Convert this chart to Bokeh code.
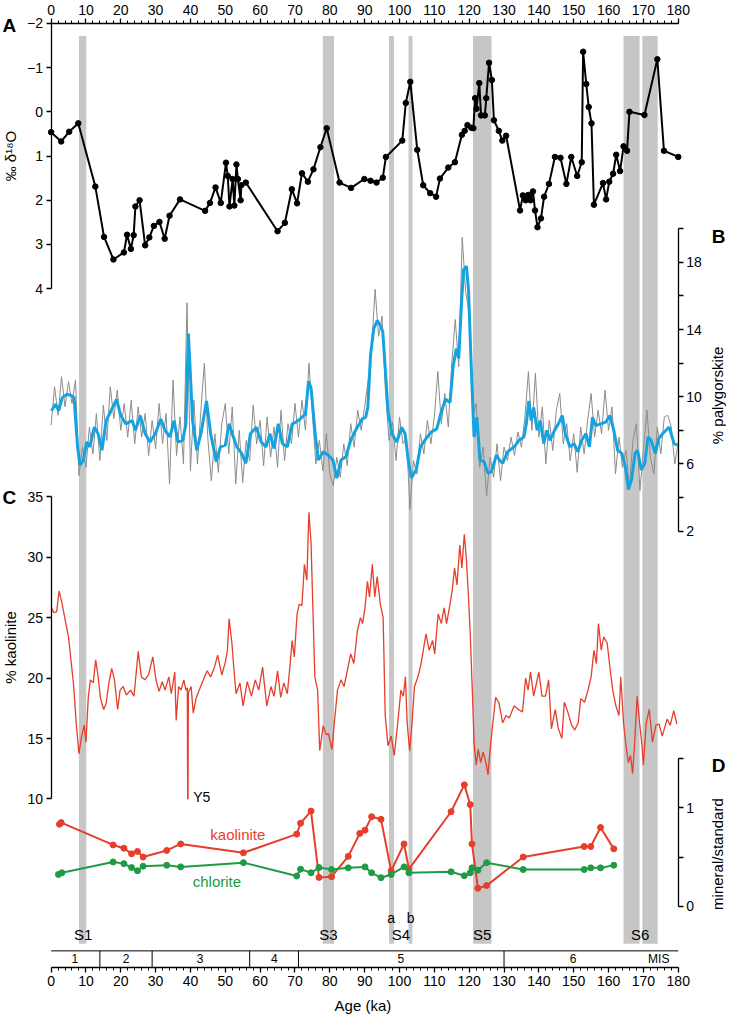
from bokeh.plotting import figure
from bokeh.models import Range1d, LinearAxis, FixedTicker, Label
from bokeh.embed import file_html
from bokeh.resources import INLINE
from bokeh.core.properties import value
import math

FONT = "Liberation Sans"

# ---------------- data ----------------
# Panel A: oxygen isotopes (per mil)
d18o_age = [0.0, 2.9, 5.2, 7.8, 12.7, 15.2, 17.9, 20.9, 21.8, 22.9, 23.7, 24.2, 25.4, 27.0, 28.2,
            29.5, 31.1, 32.6, 34.0, 37.0, 44.2, 45.6, 47.2, 48.7, 50.2, 50.7, 51.2, 52.1, 52.6, 53.2,
            53.6, 54.4, 54.6, 55.9, 65.0, 67.1, 69.1, 70.6, 72.0, 73.7, 75.3, 77.3, 79.1, 82.8, 86.1,
            89.9, 91.7, 93.4, 95.2, 96.1, 100.8, 101.8, 103.1, 105.1, 106.8, 108.8, 110.5, 111.6, 114.0,
            115.9, 117.9, 118.7, 119.5, 120.6, 121.2, 121.7, 122.1, 122.9, 123.4, 124.5, 124.9, 125.7,
            126.5, 127.1, 128.5, 129.5, 130.6, 134.6, 135.4, 136.2, 136.9, 137.6, 138.3, 138.9, 139.6,
            140.6, 141.5, 142.9, 144.6, 146.2, 147.9, 149.3, 151.0, 152.3, 152.7, 153.6, 154.3, 155.1,
            155.8, 158.4, 159.3, 160.2, 161.3, 162.2, 163.3, 164.3, 165.3, 166.0, 170.3, 174.0, 175.9,
            180.0]
d18o_val = [0.46, 0.67, 0.45, 0.26, 1.69, 2.83, 3.34, 3.18, 2.78, 3.10, 2.79, 2.14, 2.00, 3.02, 2.84,
            2.58, 2.49, 2.87, 2.35, 1.98, 2.24, 2.06, 1.71, 2.06, 1.15, 1.45, 2.14, 1.52, 2.12, 1.19,
            1.52, 2.00, 1.66, 1.60, 2.70, 2.51, 1.75, 2.07, 1.39, 1.58, 1.30, 0.80, 0.37, 1.60, 1.72,
            1.52, 1.56, 1.60, 1.49, 1.02, 0.65, -0.20, -0.68, 0.86, 1.66, 1.84, 1.92, 1.51, 1.26,
            1.14, 0.52, 0.43, 0.30, 0.36, 0.37, -0.31, -0.07, -0.65, 0.08, 0.08, -0.31, -1.11,
            -0.72, 0.19, 0.43, 0.65, 0.54, 2.23, 1.89, 2.00, 1.88, 2.00, 1.80, 2.23, 2.61,
            2.41, 1.92, 1.63, 1.02, 1.04, 1.63, 1.02, 1.45, 1.14, -1.36, -0.63, -0.11, 0.26,
            2.10, 1.61, 1.98, 1.58, 1.40, 0.97, 1.34, 0.78, 0.88, 0.00, 0.07, -1.19, 0.88,
            1.02]

# Panel B: palygorskite (%), raw record sampled every 1 ka
paly_raw_age = list(range(0, 181))
paly_raw = [8.3, 10.6, 8.9, 11.2, 9.4, 10.9, 9.6, 11.0, 5.3, 7.0, 5.8, 8.2, 6.6, 9.0, 6.2, 9.5, 7.4, 10.6, 8.7, 10.4,
            8.0, 9.6, 7.6, 9.8, 7.2, 9.4, 7.6, 9.0, 6.5, 8.6, 6.9, 9.6, 7.2, 9.0, 4.8, 11.0, 6.5, 8.8, 6.0, 15.6,
            5.6, 9.8, 6.0, 9.2, 12.0, 7.5, 5.0, 7.8, 5.5, 8.4, 9.6, 6.6, 9.4, 4.8, 8.0, 4.9, 7.4, 6.2, 9.5, 7.2,
            8.6, 5.9, 8.8, 6.4, 8.2, 5.8, 9.2, 6.2, 8.4, 7.2, 9.6, 7.6, 9.8, 8.0, 12.0, 9.0, 6.0, 7.4, 5.6, 7.8,
            5.4, 4.7, 6.4, 5.2, 7.2, 5.9, 8.4, 7.0, 9.2, 8.0, 9.4, 11.0, 13.0, 16.4, 13.6, 14.8, 10.2, 7.4, 8.5, 6.2,
            8.8, 7.2, 7.6, 3.3, 6.2, 5.4, 7.8, 6.6, 8.6, 7.2, 8.8, 11.5, 8.4, 10.2, 8.2, 12.0, 14.6, 11.8, 19.5, 16.2,
            15.0, 8.8, 9.6, 5.8, 7.0, 4.1, 6.4, 5.2, 7.2, 5.0, 7.0, 6.2, 7.6, 6.5, 7.9, 7.0, 8.8, 11.5, 8.0, 11.4,
            7.6, 9.4, 6.0, 8.6, 6.8, 9.2, 10.2, 7.2, 8.4, 6.2, 7.8, 5.5, 8.2, 6.6, 8.6, 10.2, 7.6, 9.2, 7.8, 10.4,
            8.0, 9.4, 5.4, 7.6, 5.8, 6.8, 4.6, 7.4, 8.4, 4.4, 6.8, 9.2, 6.4, 5.4, 8.2, 6.6, 8.8, 8.9, 8.2, 6.0,
            7.3]
# smoothed palygorskite
paly_smooth_age = [0.1, 1.3, 2.2, 3.2, 4.6, 6.0, 6.6, 7.6, 8.3, 9.3, 10.2, 11.1, 12.4, 13.5, 14.6, 15.8, 17.2,
                   18.8, 20.0, 21.4, 23.3, 24.2, 25.6, 27.0, 28.4, 29.9, 31.5, 32.7, 34.1, 35.3, 36.4, 37.8,
                   38.7, 39.4, 39.9, 40.6, 41.8, 43.0, 44.6, 45.8, 47.4, 48.6, 50.0, 51.1, 52.0, 53.3, 54.7,
                   55.9, 57.2, 58.9, 60.3, 61.7, 62.8, 64.0, 65.2, 66.4, 67.8, 69.2, 70.3, 71.5, 73.0, 73.9,
                   74.6, 75.8, 76.7, 78.1, 79.5, 80.9, 82.0, 83.2, 84.6, 86.0, 87.4, 89.3, 90.3, 90.9, 91.7,
                   92.6, 93.6, 94.5, 95.2, 95.9, 96.7, 97.8, 99.2, 100.6, 101.6, 102.5, 103.4, 104.8, 106.0,
                   107.6, 109.1, 110.7, 111.8, 113.2, 114.5, 115.4, 116.3, 117.0, 117.8, 118.4, 119.2, 119.8,
                   120.5, 121.4, 122.2, 123.1, 124.2, 125.4, 126.4, 127.8, 128.7, 129.6, 131.0, 132.9, 134.3,
                   135.7, 136.4, 137.1, 137.8, 138.5, 139.5, 140.4, 141.4, 142.3, 143.2, 144.5, 145.6, 146.7,
                   147.6, 148.9, 150.1, 151.2, 152.3, 153.5, 154.5, 155.4, 156.3, 157.8, 159.2, 160.4, 161.5,
                   162.6, 163.8, 164.8, 165.7, 166.6, 167.6, 168.3, 169.4, 170.4, 171.3, 172.2, 173.4, 174.4,
                   175.5, 177.4, 178.8, 179.7]
paly_smooth = [9.17, 9.56, 9.17, 9.95, 10.15, 10.05, 9.95, 7.02, 5.94, 6.23, 7.31, 7.02, 8.19, 7.80, 6.82, 8.58, 9.17,
               9.85, 8.88, 8.39, 8.58, 8.0, 8.88, 7.80, 7.31, 7.80, 8.68, 8.0, 7.61, 8.58, 7.31, 7.41,
               8.39, 13.76, 11.71, 8.58, 6.82, 7.80, 9.75, 7.80, 6.14, 7.02, 7.12, 8.39, 7.80, 7.02, 6.63,
               6.04, 7.80, 8.19, 7.31, 7.02, 7.80, 6.92, 8.39, 7.21, 7.02, 8.39, 8.49, 8.68, 8.97, 10.93,
               10.54, 7.80, 6.23, 6.72, 6.53, 6.23, 5.16, 6.23, 6.43, 7.41, 8.0, 8.68, 8.78, 9.36, 12.49,
               14.05, 14.54, 14.24, 13.86, 11.71, 9.17, 7.80, 7.31, 8.19, 7.80, 6.23, 5.16, 5.65, 7.02,
               7.51, 7.90, 8.09, 8.97, 9.85, 9.66, 11.81, 12.88, 12.29, 15.62, 17.57, 17.77, 16.4,
               12.29, 7.61, 8.78, 6.23, 6.14, 5.45, 5.55, 6.53, 6.23, 6.04, 6.72, 7.02, 7.41,
               7.61, 8.39, 9.75, 8.58, 9.36, 8.0, 8.58, 7.21, 8.0, 7.41, 8.0, 8.39, 8.88,
               7.80, 7.02, 7.21, 6.72, 7.41, 7.80, 7.02, 8.78, 8.29, 8.39, 8.49, 8.88, 8.0,
               6.82, 6.63, 5.84, 4.48, 5.07, 6.63, 6.82, 5.65, 6.04, 7.61, 7.41, 6.63, 7.51,
               7.80, 8.19, 7.21, 7.12]

# Panel C: kaolinite (%)
kaol_age = [0.1, 0.8, 1.6, 2.3, 3.2, 4.1, 5.0, 5.7, 6.5, 7.2, 8.0, 8.7, 9.5, 10.0, 10.7, 11.3, 12.1, 12.8, 13.5,
            14.2, 15.1, 15.8, 16.6, 17.4, 18.2, 19.1, 19.8, 20.7, 21.6, 22.8, 23.8, 25.0, 25.9, 26.9, 28.0,
            29.2, 30.1, 31.0, 31.9, 32.7, 33.8, 34.5, 35.5, 35.9, 36.6, 37.3, 38.1, 38.7, 39.1, 39.2, 39.3,
            39.4, 39.7, 40.2, 40.8, 41.6, 42.5, 43.7, 44.8, 45.8, 46.9, 47.8, 49.0, 50.0, 50.6, 51.1, 51.9,
            52.5, 53.1, 54.2, 55.1, 56.3, 57.5, 58.6, 59.6, 60.7, 61.9, 63.1, 64.0, 65.0, 65.9, 66.8, 67.8,
            68.4, 69.2, 69.8, 70.6, 71.2, 72.0, 72.7, 73.4, 74.0, 74.6, 75.0, 75.7, 76.5, 77.1, 78.1, 79.0,
            79.6, 80.6, 81.3, 82.2, 83.2, 84.1, 85.0, 86.0, 86.9, 87.9, 88.8, 89.4, 90.1, 90.8, 91.4, 92.2,
            92.9, 93.6, 94.5, 95.3, 95.9, 96.7, 97.6, 98.5, 99.5, 100.4, 101.1, 101.7, 102.2, 102.9, 103.6,
            104.3, 105.3, 106.2, 107.6, 108.5, 109.5, 110.1, 111.1, 112.0, 112.8, 113.5, 114.5, 115.1,
            115.8, 116.5, 117.3, 117.9, 118.6, 119.2, 119.8, 120.3, 120.9, 121.4, 122.0, 122.6, 123.3,
            124.0, 124.8, 125.4, 126.2, 126.8, 127.6, 128.5, 129.6, 130.6, 131.5, 132.9, 134.1, 135.3,
            136.2, 136.9, 137.6, 138.5, 140.0, 140.9, 141.9, 142.8, 143.6, 144.7, 145.6, 146.6, 147.3,
            148.3, 149.4, 150.3, 151.3, 152.0, 153.1, 154.1, 155.0, 155.8, 156.5, 157.1, 157.9, 158.6,
            159.6, 160.5, 161.2, 162.1, 163.0, 163.5, 164.3, 165.0, 165.7, 166.3, 166.9, 167.5, 168.2,
            168.9, 169.6, 170.0, 170.8, 171.7, 172.6, 173.6, 174.5, 175.4, 176.8, 177.7, 178.7, 179.6]
kaol_val = [25.8, 25.4, 25.5, 27.2, 26.1, 24.7, 23.4, 21.5, 19.3, 16.3, 13.75, 15.1, 16.1, 14.7, 18.5, 19.85, 19.6, 21.5, 20.1,
            18.3, 17.4, 17.9, 19.6, 20.8, 19.85, 17.4, 19.0, 19.3, 18.6, 19.0, 18.5, 22.2, 20.1, 19.85, 20.3,
            21.75, 19.85, 18.9, 19.7, 19.0, 20.1, 18.7, 20.5, 16.5, 19.3, 19.0, 19.85, 19.0, 19.2, 10.0, 10.0,
            18.8, 19.0, 19.3, 17.1, 18.3, 19.0, 19.85, 20.6, 20.1, 20.9, 21.9, 20.25, 21.3, 22.3, 24.9, 22.9,
            20.6, 18.7, 19.6, 17.7, 19.7, 18.5, 19.85, 19.0, 20.9, 17.7, 19.3, 18.5, 20.6, 18.4, 19.6, 18.7,
            20.5, 23.1, 21.75, 25.3, 26.1, 26.0, 29.4, 28.1, 33.7, 31.25, 27.2, 20.1, 19.0, 14.0, 16.05, 15.3,
            15.4, 14.1, 16.3, 19.0, 19.85, 19.3, 20.6, 22.0, 21.2, 23.9, 25.0, 24.5, 25.8, 28.0, 26.7, 29.4,
            26.7, 28.4, 26.1, 25.0, 16.9, 14.4, 15.2, 13.6, 16.3, 19.0, 18.5, 20.1, 16.3, 14.0, 16.3,
            19.3, 20.1, 21.2, 23.65, 22.3, 23.1, 22.0, 25.3, 24.5, 25.8, 24.5, 26.1, 27.2,
            29.1, 27.7, 31.0, 29.1, 31.9, 29.8, 26.7, 23.65, 19.0, 14.7, 12.8, 14.1, 13.0,
            13.9, 13.0, 12.0, 14.7, 16.3, 18.4, 18.0, 16.3, 16.9, 16.7, 17.7, 17.4, 17.2,
            20.0, 19.0, 20.5, 18.5, 20.5, 18.5, 18.5, 19.85, 15.8, 17.4, 15.8, 15.0, 18.0,
            17.2, 16.1, 15.7, 16.3, 18.3, 18.0, 19.0, 20.1, 22.3, 21.2, 24.5, 22.3, 23.4,
            22.9, 20.6, 19.0, 17.7, 16.9, 20.1, 16.3, 14.4, 13.0, 13.6, 12.1, 14.7, 18.5,
            16.3, 14.4, 12.8, 16.3, 17.4, 14.7, 16.1, 16.2, 15.2, 16.6, 16.1, 17.3, 16.2]

# Panel D: mineral/standard ratios
kaolD_age = [2.4, 2.9, 17.8, 20.9, 23.1, 24.8, 26.4, 33.2, 37.2, 55.2, 70.5, 71.6, 74.6, 76.9, 80.5, 85.3,
             88.6, 90.1, 92.0, 94.7, 97.6, 101.3, 102.7, 114.8, 118.6, 120.3, 120.8, 122.5, 125.0, 135.5,
             153.0, 154.9, 157.7, 161.5]
kaolD_val = [0.833, 0.85, 0.623, 0.59, 0.533, 0.557, 0.50, 0.567, 0.633, 0.543, 0.733, 0.843, 0.967, 0.293,
             0.30, 0.507, 0.74, 0.773, 0.91, 0.883, 0.36, 0.633, 0.377, 0.96, 1.233, 1.033, 0.633, 0.183,
             0.21, 0.50, 0.607, 0.607, 0.80, 0.583]
chlD_age = [2.1, 3.1, 17.8, 20.9, 23.1, 24.8, 26.4, 33.2, 37.2, 55.2, 70.5, 71.6, 74.6, 76.9, 80.5, 85.3,
            90.1, 92.0, 94.7, 97.6, 101.3, 102.7, 114.8, 118.6, 120.3, 120.8, 122.5, 125.0, 135.5, 153.0,
            154.9, 157.7, 161.5]
chlD_val = [0.323, 0.34, 0.45, 0.433, 0.393, 0.36, 0.407, 0.417, 0.40, 0.443, 0.307, 0.377, 0.34, 0.393,
            0.373, 0.39, 0.40, 0.34, 0.29, 0.323, 0.40, 0.34, 0.35, 0.31, 0.34, 0.39, 0.367, 0.443, 0.373,
            0.373, 0.39, 0.39, 0.417]

# sapropel bands (ka)
band_left = [8.0, 78.0, 97.0, 102.6, 121.1, 164.3, 169.7]
band_right = [10.1, 81.2, 98.4, 103.7, 126.4, 168.9, 174.1]
sap_names = ["S1", "S3", "S4", "S5", "S6"]
sap_age = [9.2, 79.6, 100.4, 123.7, 169.1]
sub_names = ["a", "b"]
sub_age = [97.6, 103.2]

# marine isotope stages
mis_bounds = [14, 29, 57, 71, 130]
mis_names = ["1", "2", "3", "4", "5", "6", "MIS"]
mis_age = [6.8, 21.5, 42.8, 64.1, 100.4, 149.8, 174.4]

x_ticks = list(range(0, 181, 10))
x_minor = list(range(0, 181, 2))

# ---------------- layout ----------------
# The whole canvas is the plot frame; the vertical layout range is expressed in
# reference-image pixels (0 = top, 1034 = bottom), the x range in ka.
REF_W, REF_H = 742.0, 1034.0
AX_TOP = 23.3     # top age axis
AX_BOT = 982.3    # bottom age axis


def ka_at(ref_x):
    return (ref_x - 51.7) / 3.561


def panel_range(v1, y1, v2, y2):
    k = (v2 - v1) / (y2 - y1)
    return Range1d(start=v1 + (REF_H - y1) * k, end=v1 + (0.0 - y1) * k)


p = figure(width=726, height=1018, x_range=Range1d(ka_at(0), ka_at(REF_W)), y_range=Range1d(REF_H, 0),
           output_backend="svg", toolbar_location=None, x_axis_location=None, y_axis_location=None,
           min_border_left=0, min_border_right=0, min_border_top=0, min_border_bottom=0)
p.outline_line_color = None
p.background_fill_color = "white"
p.border_fill_color = "white"
p.grid.visible = False

p.extra_y_ranges = {
    "A": panel_range(-2, 23.3, 4, 292.7),
    "B": panel_range(18, 266.0, 2, 539.0),
    "C": panel_range(35, 504.0, 10, 811.0),
    "D": panel_range(1, 820.0, 0, 920.0),
}

BAND = "#c6c6c6"
RED = "#e63e2a"
GREEN = "#1f9a45"
BLUE = "#15a3e0"
GRAY = "#8c8c8c"

# sapropel bands
p.quad(left=band_left, right=band_right, top=36, bottom=958, fill_color=BAND, line_color=None, level="underlay")

# MIS bar
p.segment(x0=0, y0=965.3, x1=180, y1=965.3, line_color="black", line_width=1)
p.segment(x0=mis_bounds, y0=965.3, x1=mis_bounds, y1=AX_BOT, line_color="black", line_width=1)
p.text(x=mis_age, y=973.5, text=mis_names, text_font=value(FONT), text_font_size="12px",
       text_align="center", text_baseline="middle", text_color="black")

# sapropel labels
p.text(x=sap_age, y=949, text=sap_names, text_font=value(FONT), text_font_size="15px",
       text_align="center", text_baseline="middle", text_color="black")
p.text(x=sub_age, y=932, text=sub_names, text_font=value(FONT), text_font_size="14px",
       text_align="center", text_baseline="middle", text_color="black")

# Panel A
p.line(d18o_age, d18o_val, y_range_name="A", line_color="black", line_width=2)
p.scatter(d18o_age, d18o_val, y_range_name="A", size=5.5, fill_color="black", line_color="black")

# Panel B
p.line(paly_raw_age, paly_raw, y_range_name="B", line_color=GRAY, line_width=1)
p.line(paly_smooth_age, paly_smooth, y_range_name="B", line_color=BLUE, line_width=3)

# Panel C
p.line(kaol_age, kaol_val, y_range_name="C", line_color=RED, line_width=1.3)
p.text(x=[40.8], y=[10.2], y_range_name="C", text=["Y5"], text_font=value(FONT), text_font_size="14px",
       text_align="left", text_baseline="middle", text_color="black")

# Panel D
p.line(kaolD_age, kaolD_val, y_range_name="D", line_color=RED, line_width=2)
p.scatter(kaolD_age, kaolD_val, y_range_name="D", size=6, fill_color=RED, line_color=RED)
p.line(chlD_age, chlD_val, y_range_name="D", line_color=GREEN, line_width=2)
p.scatter(chlD_age, chlD_val, y_range_name="D", size=6, fill_color=GREEN, line_color=GREEN)
p.text(x=[53.6], y=[0.733], y_range_name="D", text=["kaolinite"], text_font=value(FONT),
       text_font_size="15px", text_align="center", text_baseline="middle", text_color=RED)
p.text(x=[47.6], y=[0.25], y_range_name="D", text=["chlorite"], text_font=value(FONT),
       text_font_size="15px", text_align="center", text_baseline="middle", text_color=GREEN)


def style_axis(ax):
    ax.axis_line_color = "black"
    ax.axis_line_width = 1.3
    ax.major_tick_line_color = "black"
    ax.major_tick_line_width = 1.3
    ax.minor_tick_line_color = "black"
    ax.minor_tick_line_width = 1
    ax.major_tick_in = 0
    ax.major_tick_out = 5
    ax.minor_tick_in = 0
    ax.major_label_text_font = FONT
    ax.major_label_text_font_size = "14px"
    ax.major_label_text_color = "black"
    ax.major_label_standoff = 3


# x axes (top & bottom), bounded to 0-180 ka
ax_top = LinearAxis(fixed_location=AX_TOP, bounds=(0, 180),
                    ticker=FixedTicker(ticks=x_ticks, minor_ticks=x_minor))
style_axis(ax_top)
ax_top.minor_tick_out = 3
p.add_layout(ax_top, "above")

ax_bot = LinearAxis(fixed_location=AX_BOT, bounds=(0, 180),
                    ticker=FixedTicker(ticks=x_ticks, minor_ticks=x_minor),
                    axis_label="Age  (ka)")
style_axis(ax_bot)
ax_bot.minor_tick_out = 3
ax_bot.axis_label_text_font = FONT
ax_bot.axis_label_text_font_size = "15px"
ax_bot.axis_label_text_font_style = "normal"
ax_bot.axis_label_text_color = "black"
ax_bot.axis_label_standoff = 8
p.add_layout(ax_bot, "below")

# y axes
axA = LinearAxis(y_range_name="A", fixed_location=0, bounds=(-2, 4),
                 ticker=FixedTicker(ticks=[-2, -1, 0, 1, 2, 3, 4]))
style_axis(axA)
axA.minor_tick_out = 0
p.add_layout(axA, "left")

axB = LinearAxis(y_range_name="B", fixed_location=180, bounds=(2, 20),
                 ticker=FixedTicker(ticks=[2, 6, 10, 14, 18], minor_ticks=[4, 8, 12, 16, 20]))
style_axis(axB)
axB.minor_tick_out = 5
axB.minor_tick_line_width = 1.3
p.add_layout(axB, "right")

axC = LinearAxis(y_range_name="C", fixed_location=0, bounds=(10, 35),
                 ticker=FixedTicker(ticks=[10, 15, 20, 25, 30, 35]))
style_axis(axC)
axC.minor_tick_out = 0
p.add_layout(axC, "left")

axD = LinearAxis(y_range_name="D", fixed_location=180, bounds=(0, 1.5),
                 ticker=FixedTicker(ticks=[0, 1], minor_ticks=[0.5, 1.5]))
style_axis(axD)
axD.minor_tick_out = 5
axD.minor_tick_line_width = 1.3
p.add_layout(axD, "right")


def add_label(text, ref_x, ref_y, size, bold=False, angle=0.0):
    p.add_layout(Label(x=ka_at(ref_x), y=ref_y, text=text, text_font=FONT, text_font_size=size,
                       text_font_style="bold" if bold else "normal", text_align="center",
                       text_baseline="middle", angle=angle, text_color="black"))


add_label("A", 9, 25, "19px", bold=True)
add_label("B", 734, 240, "19px", bold=True)
add_label("C", 9, 505, "19px", bold=True)
add_label("D", 734, 777, "19px", bold=True)
add_label("‰ δ¹⁸O", 10, 158, "15px", angle=math.pi / 2)
add_label("%  palygorskite", 733, 399, "15px", angle=math.pi / 2)
add_label("%  kaolinite", 10, 655, "15px", angle=math.pi / 2)
add_label("mineral/standard", 733, 867, "15px", angle=math.pi / 2)

open("out.html", "w").write(file_html(p, INLINE))
